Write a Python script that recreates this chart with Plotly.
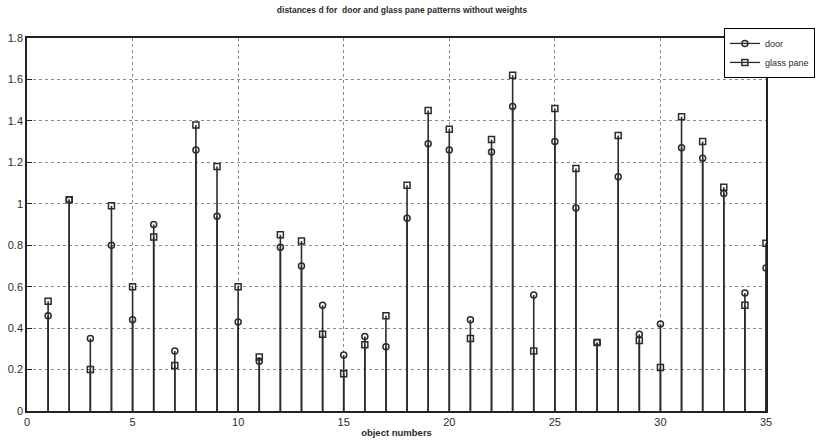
import plotly.graph_objects as go

objects = list(range(1, 36))
door = [0.46, 1.02, 0.35, 0.80, 0.44, 0.90, 0.29, 1.26, 0.94, 0.43,
        0.24, 0.79, 0.70, 0.51, 0.27, 0.36, 0.31, 0.93, 1.29, 1.26,
        0.44, 1.25, 1.47, 0.56, 1.30, 0.98, 0.33, 1.13, 0.37, 0.42,
        1.27, 1.22, 1.05, 0.57, 0.69]
glass = [0.53, 1.02, 0.20, 0.99, 0.60, 0.84, 0.22, 1.38, 1.18, 0.60,
         0.26, 0.85, 0.82, 0.37, 0.18, 0.32, 0.46, 1.09, 1.45, 1.36,
         0.35, 1.31, 1.62, 0.29, 1.46, 1.17, 0.33, 1.33, 0.34, 0.21,
         1.42, 1.30, 1.08, 0.51, 0.81]
x_ticks = [0, 5, 10, 15, 20, 25, 30, 35]
y_ticks = [0, 0.2, 0.4, 0.6, 0.8, 1, 1.2, 1.4, 1.6, 1.8]
y_tick_labels = ["0", "0.2", "0.4", "0.6", "0.8", "1", "1.2", "1.4", "1.6", "1.8"]

ink = "#2b2b2b"
fig = go.Figure()

def stem(name, vals, symbol, size):
    fig.add_trace(go.Scatter(
        x=objects, y=vals, mode="markers", name=name, showlegend=False,
        marker=dict(symbol=symbol, size=size, color=ink, line=dict(width=1.5, color=ink)),
        error_y=dict(type="data", symmetric=False, array=[0] * len(vals),
                     arrayminus=vals, width=0, thickness=1.6, color=ink),
    ))
    fig.add_trace(go.Scatter(
        x=[None], y=[None], mode="lines+markers", name=name,
        line=dict(color=ink, width=1.3),
        marker=dict(symbol=symbol, size=size, color=ink, line=dict(width=1.5, color=ink)),
    ))

stem("glass pane", glass, "square-open", 6)
stem("door", door, "circle-open", 6)

axis_common = dict(showgrid=True, gridcolor="#8a8a8a", griddash="dot", gridwidth=1,
                   showline=True, linecolor="#222", linewidth=1.5, mirror=True,
                   ticks="inside", ticklen=5, tickcolor="#222", zeroline=False,
                   automargin=False, tickfont=dict(size=11, color=ink))

fig.update_layout(
    width=834, height=442,
    margin=dict(l=27, r=68, t=38, b=31, autoexpand=False),
    paper_bgcolor="white", plot_bgcolor="white",
    font=dict(family="Liberation Sans, Arial, sans-serif", color=ink, size=11),
    title=dict(text="<b>distances d for  door and glass pane patterns without weights</b>",
               x=0.482, xanchor="center", y=0.985, yanchor="top",
               font=dict(size=8.5, color=ink)),
    showlegend=True,
    legend=dict(x=0.943, y=1.027, xanchor="left", yanchor="top",
                bordercolor="black", borderwidth=1, bgcolor="white",
                font=dict(size=9, color=ink), traceorder="reversed",
                itemwidth=30, tracegroupgap=0),
    xaxis=dict(range=[0, 35], tickvals=x_ticks,
               title=dict(text="<b>object numbers</b>", font=dict(size=9.5, color=ink), standoff=2),
               **axis_common),
    yaxis=dict(range=[0, 1.8], tickvals=y_ticks, ticktext=y_tick_labels, **axis_common),
)

fig.write_html("out.html", config={"displayModeBar": False},
               post_script="document.body.style.margin='0px';document.body.style.overflow='hidden';")
